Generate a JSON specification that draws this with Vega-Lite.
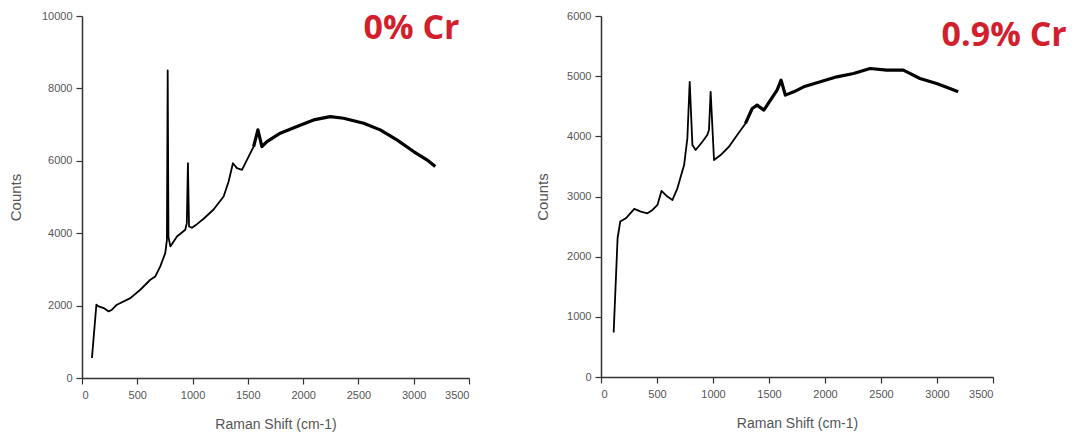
{
  "$schema": "https://vega.github.io/schema/vega-lite/v6.json",
  "background": "white",
  "padding": {"left": 8, "top": 10, "right": 5, "bottom": 4},
  "spacing": 65,
  "datasets": {
    "cr0": [
      {"shift": 90, "counts": 552}, {"shift": 130, "counts": 2024}, {"shift": 151, "counts": 1978},
      {"shift": 196, "counts": 1932}, {"shift": 241, "counts": 1840}, {"shift": 271, "counts": 1886},
      {"shift": 316, "counts": 2024}, {"shift": 437, "counts": 2208}, {"shift": 527, "counts": 2438},
      {"shift": 618, "counts": 2714}, {"shift": 663, "counts": 2806}, {"shift": 708, "counts": 3082},
      {"shift": 753, "counts": 3450}, {"shift": 768, "counts": 3818}, {"shift": 775, "counts": 8500},
      {"shift": 782, "counts": 3900}, {"shift": 799, "counts": 3634}, {"shift": 859, "counts": 3910},
      {"shift": 934, "counts": 4094}, {"shift": 948, "counts": 4278}, {"shift": 958, "counts": 5934},
      {"shift": 968, "counts": 4186}, {"shift": 994, "counts": 4150}, {"shift": 1040, "counts": 4250},
      {"shift": 1100, "counts": 4400}, {"shift": 1190, "counts": 4654}, {"shift": 1281, "counts": 5014},
      {"shift": 1326, "counts": 5428}, {"shift": 1365, "counts": 5934}, {"shift": 1401, "counts": 5796},
      {"shift": 1447, "counts": 5750}, {"shift": 1492, "counts": 6026}, {"shift": 1552, "counts": 6394},
      {"shift": 1591, "counts": 6854}, {"shift": 1627, "counts": 6394}, {"shift": 1673, "counts": 6532},
      {"shift": 1793, "counts": 6762}, {"shift": 1944, "counts": 6946}, {"shift": 2095, "counts": 7130},
      {"shift": 2245, "counts": 7222}, {"shift": 2366, "counts": 7176}, {"shift": 2547, "counts": 7038},
      {"shift": 2697, "counts": 6854}, {"shift": 2848, "counts": 6578}, {"shift": 2999, "counts": 6256},
      {"shift": 3119, "counts": 6026}, {"shift": 3195, "counts": 5842}
    ],
    "cr09": [
      {"shift": 113, "counts": 741}, {"shift": 148, "counts": 2306}, {"shift": 172, "counts": 2583},
      {"shift": 222, "counts": 2638}, {"shift": 297, "counts": 2793}, {"shift": 356, "counts": 2749},
      {"shift": 415, "counts": 2721}, {"shift": 460, "counts": 2777}, {"shift": 504, "counts": 2860},
      {"shift": 540, "counts": 3092}, {"shift": 593, "counts": 2998}, {"shift": 638, "counts": 2943},
      {"shift": 682, "counts": 3136}, {"shift": 742, "counts": 3523}, {"shift": 771, "counts": 3966},
      {"shift": 792, "counts": 4906}, {"shift": 816, "counts": 3855}, {"shift": 845, "counts": 3772},
      {"shift": 905, "counts": 3910}, {"shift": 949, "counts": 4021}, {"shift": 964, "counts": 4104},
      {"shift": 979, "counts": 4740}, {"shift": 1009, "counts": 3606}, {"shift": 1068, "counts": 3689},
      {"shift": 1142, "counts": 3827}, {"shift": 1216, "counts": 4021}, {"shift": 1290, "counts": 4215},
      {"shift": 1350, "counts": 4463}, {"shift": 1394, "counts": 4519}, {"shift": 1454, "counts": 4436},
      {"shift": 1513, "counts": 4602}, {"shift": 1572, "counts": 4768}, {"shift": 1608, "counts": 4934},
      {"shift": 1646, "counts": 4685}, {"shift": 1721, "counts": 4740}, {"shift": 1810, "counts": 4823},
      {"shift": 1958, "counts": 4906}, {"shift": 2106, "counts": 4989}, {"shift": 2255, "counts": 5044},
      {"shift": 2403, "counts": 5127}, {"shift": 2551, "counts": 5100}, {"shift": 2699, "counts": 5100},
      {"shift": 2848, "counts": 4961}, {"shift": 2996, "counts": 4878}, {"shift": 3115, "counts": 4795},
      {"shift": 3189, "counts": 4740}
    ],
    "label0": [{"label": "0% Cr"}],
    "label09": [{"label": "0.9% Cr"}]
  },
  "config": {
    "view": {"stroke": null},
    "axis": {
      "grid": false,
      "domainColor": "#333",
      "domainWidth": 1.5,
      "tickColor": "#333",
      "tickWidth": 1.2,
      "labelFont": "Liberation Sans",
      "labelFontSize": 11,
      "labelColor": "#555",
      "labelPadding": 4,
      "titleFont": "Liberation Sans",
      "titleFontSize": 14,
      "titleFontWeight": "normal",
      "titleColor": "#555",
      "format": "d"
    }
  },
  "hconcat": [
    {
      "width": 387,
      "height": 362,
      "layer": [
        {
          "data": {"name": "cr0"},
          "transform": [{"filter": "datum.shift <= 1600"}],
          "mark": {"type": "line", "color": "black", "strokeWidth": 1.8, "strokeJoin": "round"},
          "encoding": {
            "x": {
              "field": "shift", "type": "quantitative",
              "scale": {"domain": [0, 3500], "nice": false},
              "axis": {
                "title": "Raman Shift (cm-1)",
                "values": [0, 250, 500, 750, 1000, 1250, 1500, 1750, 2000, 2250, 2500, 2750, 3000, 3250, 3500],
                "labelExpr": "datum.value % 500 === 0 ? datum.label : ''",
                "tickSize": {"condition": {"test": "datum.value % 500 === 0", "value": 6}, "value": 3},
                "labelPadding": 5,
                "titlePadding": 17
              }
            },
            "y": {
              "field": "counts", "type": "quantitative",
              "scale": {"domain": [0, 10000], "nice": false},
              "axis": {
                "title": "Counts",
                "titleFontSize": 15,
                "values": [0, 1000, 2000, 3000, 4000, 5000, 6000, 7000, 8000, 9000, 10000],
                "labelExpr": "datum.value % 2000 === 0 ? datum.label : ''",
                "tickSize": {"condition": {"test": "datum.value % 2000 === 0", "value": 6}, "value": 3},
                "titlePadding": 18
              }
            }
          }
        },
        {
          "data": {"name": "cr0"},
          "transform": [{"filter": "datum.shift >= 1500"}],
          "mark": {"type": "line", "color": "black", "strokeWidth": 3.2, "strokeJoin": "round"},
          "encoding": {
            "x": {"field": "shift", "type": "quantitative"},
            "y": {"field": "counts", "type": "quantitative"}
          }
        },
        {
          "data": {"name": "label0"},
          "mark": {"type": "text", "font": "Open Sans", "fontWeight": "bold", "fontSize": 34, "color": "#d21f2d", "align": "center", "baseline": "middle"},
          "encoding": {
            "x": {"datum": 2980},
            "y": {"datum": 9640},
            "text": {"field": "label", "type": "nominal"}
          }
        }
      ]
    },
    {
      "width": 392,
      "height": 361,
      "layer": [
        {
          "data": {"name": "cr09"},
          "transform": [{"filter": "datum.shift <= 1650"}],
          "mark": {"type": "line", "color": "black", "strokeWidth": 1.8, "strokeJoin": "round"},
          "encoding": {
            "x": {
              "field": "shift", "type": "quantitative",
              "scale": {"domain": [0, 3500], "nice": false},
              "axis": {
                "title": "Raman Shift (cm-1)",
                "values": [0, 250, 500, 750, 1000, 1250, 1500, 1750, 2000, 2250, 2500, 2750, 3000, 3250, 3500],
                "labelExpr": "datum.value % 500 === 0 ? datum.label : ''",
                "tickSize": {"condition": {"test": "datum.value % 500 === 0", "value": 6}, "value": 3},
                "labelPadding": 5,
                "titlePadding": 17
              }
            },
            "y": {
              "field": "counts", "type": "quantitative",
              "scale": {"domain": [0, 6000], "nice": false},
              "axis": {
                "title": "Counts",
                "titleFontSize": 15,
                "values": [0, 500, 1000, 1500, 2000, 2500, 3000, 3500, 4000, 4500, 5000, 5500, 6000],
                "labelExpr": "datum.value % 1000 === 0 ? datum.label : ''",
                "tickSize": {"condition": {"test": "datum.value % 1000 === 0", "value": 6}, "value": 3},
                "titlePadding": 16
              }
            }
          }
        },
        {
          "data": {"name": "cr09"},
          "transform": [{"filter": "datum.shift >= 1290"}],
          "mark": {"type": "line", "color": "black", "strokeWidth": 3.2, "strokeJoin": "round"},
          "encoding": {
            "x": {"field": "shift", "type": "quantitative"},
            "y": {"field": "counts", "type": "quantitative"}
          }
        },
        {
          "data": {"name": "label09"},
          "mark": {"type": "text", "font": "Open Sans", "fontWeight": "bold", "fontSize": 34, "color": "#d21f2d", "align": "center", "baseline": "middle"},
          "encoding": {
            "x": {"datum": 3600},
            "y": {"datum": 5668},
            "text": {"field": "label", "type": "nominal"}
          }
        }
      ]
    }
  ]
}
